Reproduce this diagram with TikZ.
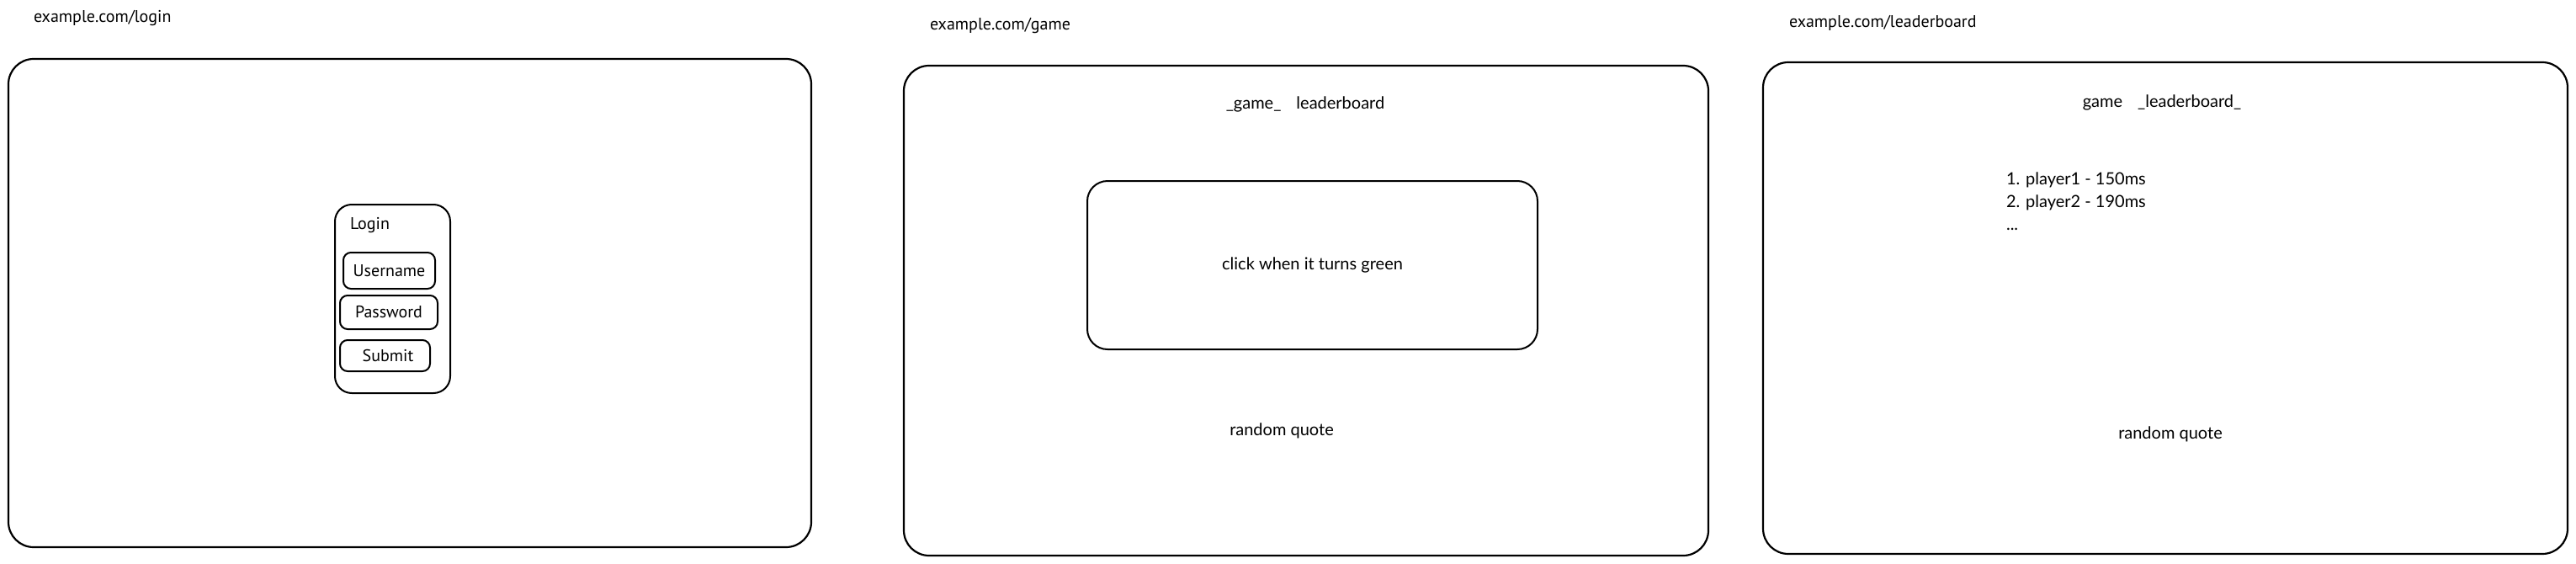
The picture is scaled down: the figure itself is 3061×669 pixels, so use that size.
\documentclass[tikz,border=0pt]{standalone}
\usepackage{fontspec}
\setmainfont{Lato}
\newfontfamily\handfont{PT Sans}
\begin{document}
\begin{tikzpicture}[x=1pt,y=-1pt,
  every node/.style={inner sep=0pt, outer sep=0pt},
  page/.style={draw=black, line width=2.2pt, rounded corners=30pt, rectangle},
  panel/.style={draw=black, line width=2pt, rounded corners=24pt, rectangle},
  field/.style={draw=black, line width=2pt, rounded corners=9pt, rectangle},
  body/.style={font=\fontsize{20}{27}\selectfont},
  hand/.style={font=\handfont\fontsize{20}{27}\selectfont}
]
\fill[white] (0,0) rectangle (3061,669);
\useasboundingbox (0,0) rectangle (3061,669);

% URL labels
\node[hand, anchor=west] (url1) at (40,22) {example.com/login};
\node[hand, anchor=west] (url2) at (1105,31) {example.com/game};
\node[hand, anchor=west] (url3) at (2126,27) {example.com/leaderboard};

% page frames
\node[page, minimum width=954pt, minimum height=580pt] (loginpage) at (487,360) {};
\node[page, minimum width=956pt, minimum height=582pt] (gamepage) at (1552,369) {};
\node[page, minimum width=956pt, minimum height=584pt] (lbpage) at (2573,366) {};

% login form
\node[panel, rounded corners=20pt, minimum width=137pt, minimum height=224pt] (loginform) at (466.5,355) {};
\node[hand, anchor=west] (logintitle) at (416,268) {Login};
\node[field, minimum width=109pt, minimum height=43pt, hand] (username) at (462.5,321.5) {Username};
\node[field, minimum width=116pt, minimum height=40pt, hand] (password) at (462,371) {Password};
\node[field, minimum width=107pt, minimum height=37pt] (submit) at (457.5,422.5) {};
\node[hand] (submittext) at (461,422) {Submit};

% game page
\node[body] (gametabs) at (1551,124) {\_game\_\hspace{18pt}leaderboard};
\node[panel, minimum width=535pt, minimum height=200pt, body] (clickarea) at (1559.5,315) {click when it turns green};
\node[body] (quote1) at (1523,512) {random quote};

% leaderboard page
\node[body] (lbtabs) at (2569,122) {game\hspace{18pt}\_leaderboard\_};
\node[body, anchor=north west, align=left] (lblist) at (2384,205) {1. player1 - 150ms\\2. player2 - 190ms\\...};
\node[body] (quote2) at (2579,516) {random quote};
\end{tikzpicture}
\end{document}
